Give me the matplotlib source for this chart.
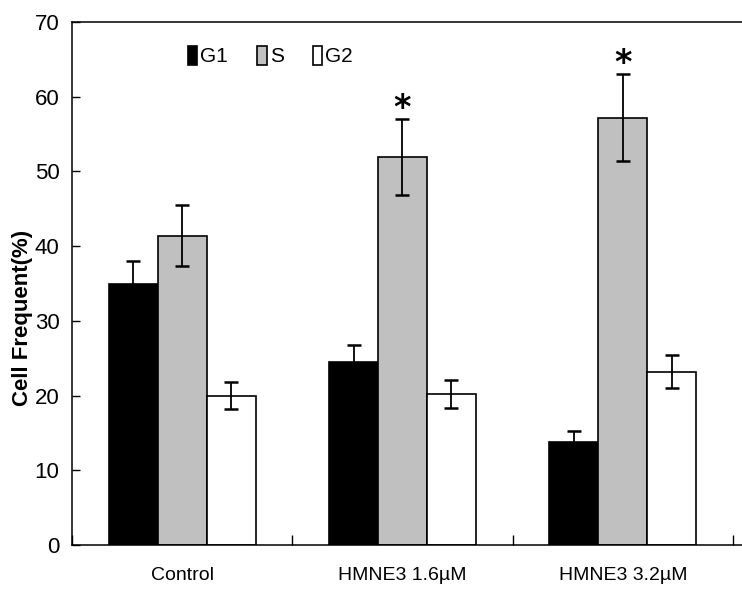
"""Cell cycle distribution bar chart (G1 / S / G2) with error bars."""

import matplotlib
matplotlib.use("Agg")
import matplotlib.pyplot as plt
import numpy as np

# data
categories = ['Control', 'HMNE3 1.6\u00b5M', 'HMNE3 3.2\u00b5M']
phases = ['G1', 'S', 'G2']
g1 = [34.9, 24.5, 13.8]
g1_err = [3.1, 2.3, 1.5]
s_phase = [41.4, 51.9, 57.2]
s_err = [4.1, 5.1, 5.8]
g2 = [20.0, 20.2, 23.2]
g2_err = [1.8, 1.9, 2.2]
significant = [False, True, True]   # '*' above S bar

plt.rcParams['font.family'] = ['Liberation Sans', 'DejaVu Sans']

fig = plt.figure(figsize=(7.42, 5.97), dpi=100)
ax = fig.add_axes([72 / 742, 52 / 597, 1 - 72 / 742, 523 / 597])

x = np.arange(len(categories))
width = 0.222
colors = ['black', '#c0c0c0', 'white']
series = [(g1, g1_err), (s_phase, s_err), (g2, g2_err)]

for i, (vals, errs) in enumerate(series):
    pos = x + (i - 1) * width
    ax.bar(pos, vals, width, color=colors[i], edgecolor='black',
           linewidth=1.2, label=phases[i], zorder=2)
    ax.errorbar(pos, vals, yerr=errs, fmt='none', ecolor='black',
                elinewidth=1.3, capsize=5, capthick=1.8, zorder=3)

# significance stars
for i, sig in enumerate(significant):
    if sig:
        ax.text(x[i], s_phase[i] + s_err[i] - 0.8, '*', ha='center',
                va='bottom', fontsize=24, fontweight='bold', family='DejaVu Sans')

ax.set_ylim(0, 70)
ax.set_xlim(-0.5, 2.5 + 9 / 220)
ax.set_yticks(range(0, 71, 10))
ax.tick_params(axis='y', direction='in', length=6, width=1, labelsize=16,
               pad=9, colors='black')
ax.set_xticks(x)
ax.set_xticklabels(categories, fontsize=14)
ax.tick_params(axis='x', length=0, pad=16)
ax.set_xticks([-0.5, 0.5, 1.5, 2.5], minor=True)
ax.tick_params(axis='x', which='minor', direction='in', length=7, width=1)

for side in ['left', 'bottom', 'top']:
    ax.spines[side].set_linewidth(1.1)
ax.spines['right'].set_visible(False)

ax.set_ylabel('Cell Frequent(%)', fontsize=16, fontweight='bold')
ax.yaxis.set_label_coords(-0.058, 0.434)

ax.legend(loc='upper left', bbox_to_anchor=(0.145, 0.99), ncol=3,
          frameon=False, fontsize=15, handlelength=0.45, handleheight=1.0,
          handletextpad=0.15, columnspacing=1.4)

fig.savefig('out.png', dpi=100)
